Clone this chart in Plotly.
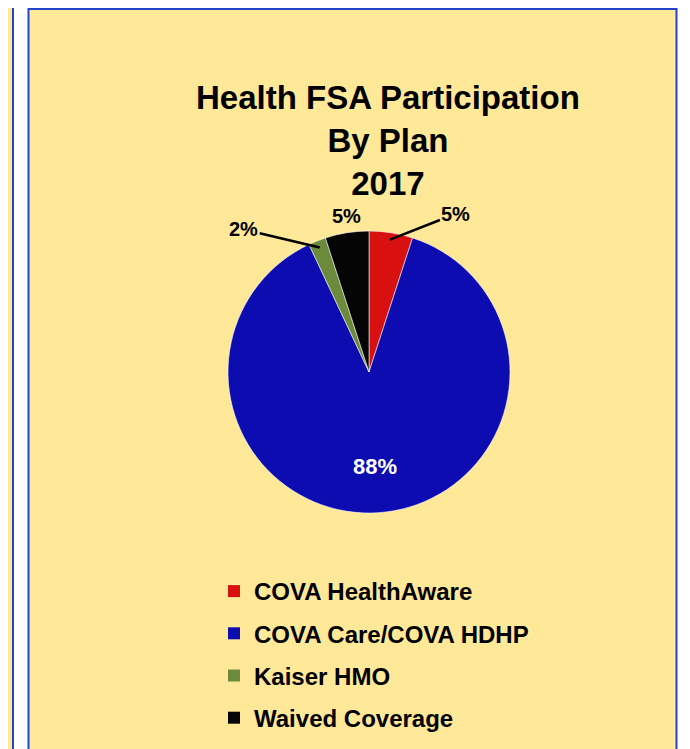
import math
import plotly.graph_objects as go

# ---- data ----
categories = ["COVA HealthAware", "COVA Care/COVA HDHP", "Kaiser HMO", "Waived Coverage"]
values = [5, 88, 2, 5]
colors = ["#D91010", "#0C0CB0", "#6B8A3C", "#050505"]
title_lines = ["Health FSA Participation", "By Plan", "2017"]

# page body has an 8px margin; work in window pixel coordinates
OFF = 8
W, H = 682, 741
BG = "#FFE898"
BORDER = "#2244CC"
FONT = "Arial, Liberation Sans"

def px(x):
    return (x - OFF) / W

def py(y):
    return 1 - (y - OFF) / H

# pie geometry (window pixels)
cx, cy, r = 369, 372, 141

fig = go.Figure()
fig.add_trace(go.Pie(
    labels=categories,
    values=values,
    marker=dict(colors=colors, line=dict(color="rgba(255,255,255,0.55)", width=1)),
    sort=False,
    direction="clockwise",
    rotation=0,
    textinfo="none",
    hoverinfo="label+percent",
    showlegend=False,
    domain=dict(x=[px(cx - r), px(cx + r)], y=[py(cy + r), py(cy - r)]),
))

# legend entries (one per category, separate groups for spacing)
for i, (c, col) in enumerate(zip(categories, colors)):
    fig.add_trace(go.Scatter(
        x=[None], y=[None], mode="markers", name=c,
        marker=dict(symbol="square", size=12, color=col),
        legendgroup=f"g{i}", showlegend=True,
    ))

# slice labels, positioned from the data
total = sum(values)
cum = 0
label_style = {
    0: dict(out=True, ax=66, ay=-26),
    1: dict(inside=True),
    2: dict(out=True, ax=-76, ay=-18),
    3: dict(out=False),
}
annotations = []
for i, v in enumerate(values):
    mid = (cum + v / 2) / total * 2 * math.pi
    cum += v
    pct = f"{round(v / total * 100)}%"
    st = label_style[i]
    if st.get("inside"):
        rr = 0.67 * r
        x = cx + rr * math.sin(mid)
        y = cy - rr * math.cos(mid)
        annotations.append(dict(x=px(x), y=py(y), xref="paper", yref="paper", text=f"<b>{pct}</b>",
                                showarrow=False, font=dict(size=22, color="white", family=FONT)))
    elif st.get("out"):
        rr = 0.95 * r
        x = cx + rr * math.sin(mid)
        y = cy - rr * math.cos(mid)
        annotations.append(dict(x=px(x), y=py(y), xref="paper", yref="paper", text=f"<b>{pct}</b>",
                                showarrow=True, arrowhead=0, arrowwidth=2.5, arrowcolor="black",
                                ax=st["ax"], ay=st["ay"], standoff=0,
                                font=dict(size=20, color="black", family=FONT)))
    else:
        rr = 1.0 * r
        x = cx + rr * math.sin(mid)
        y = cy - rr * math.cos(mid)
        annotations.append(dict(x=px(x), y=py(y - 4), xref="paper", yref="paper", text=f"<b>{pct}</b>",
                                showarrow=False, yanchor="bottom",
                                font=dict(size=20, color="black", family=FONT)))

annotations.append(dict(
    x=px(388), y=py(77), xref="paper", yref="paper", xanchor="center", yanchor="top",
    text="<b>" + "<br>".join(title_lines) + "</b>", showarrow=False,
    font=dict(size=33, color="black", family=FONT),
))

shapes = [
    dict(type="rect", xref="paper", yref="paper", x0=px(-20), x1=px(13), y0=py(770), y1=py(7),
         fillcolor=BG, line=dict(color=BORDER, width=2), layer="below"),
    dict(type="rect", xref="paper", yref="paper", x0=px(28.5), x1=px(676.5), y0=py(770), y1=py(9),
         fillcolor=BG, line=dict(color=BORDER, width=2), layer="below"),
]

fig.update_layout(
    width=W, height=H,
    margin=dict(l=0, r=0, t=0, b=0),
    paper_bgcolor="white",
    plot_bgcolor="rgba(0,0,0,0)",
    xaxis=dict(visible=False),
    yaxis=dict(visible=False),
    shapes=shapes,
    annotations=annotations,
    legend=dict(
        x=px(214), y=py(569), xanchor="left", yanchor="top",
        bgcolor="rgba(0,0,0,0)",
        font=dict(size=24, color="black", family=FONT, weight="bold"),
        tracegroupgap=8,
        traceorder="grouped",
    ),
)

fig.write_html("out.html")
